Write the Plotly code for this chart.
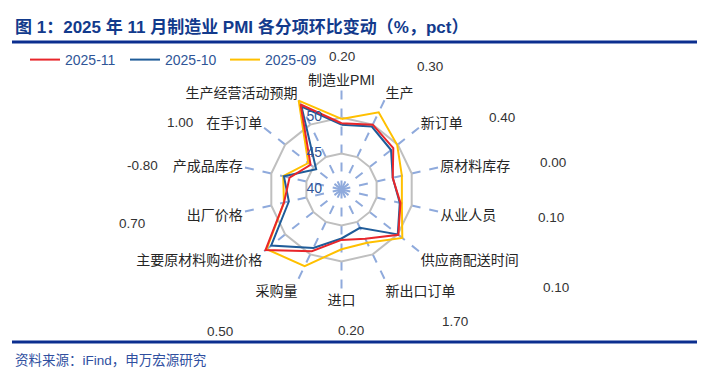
import plotly.graph_objects as go

W, H = 708, 378

categories = ["制造业PMI", "生产", "新订单", "原材料库存", "从业人员", "供应商配送时间",
              "新出口订单", "进口", "采购量", "主要原材料购进价格", "出厂价格",
              "产成品库存", "在手订单", "生产经营活动预期"]
nov_2025 = [49.2, 50.0, 49.2, 47.3, 48.4, 50.1, 47.6, 47.0, 49.5, 53.5, 48.2, 47.4, 45.5, 53.1]
oct_2025 = [49.0, 49.7, 48.8, 47.3, 48.3, 50.0, 45.9, 46.8, 49.0, 52.5, 47.5, 48.2, 44.5, 52.8]
sep_2025 = [49.8, 51.9, 49.9, 48.6, 48.6, 50.8, 48.2, 48.3, 51.8, 53.3, 48.2, 48.3, 45.9, 53.7]
series_names = ["2025-11", "2025-10", "2025-09"]
change_labels = ["0.20", "0.30", "0.40", "0.00", "0.10", "0.10", "1.70",
                 "0.20", "0.50", "0.70", "-0.80", "1.00"]
radial_ticks = [40, 45, 50]

# layout (pixel positions of the scattered change labels)
label_px = [(342, 56), (430, 67), (502, 117), (553, 163), (551, 217), (556, 287),
            (455, 321), (351, 330), (220, 331), (132, 223), (142, 165), (180, 122)]

colors = ["#E8262B", "#1F5C99", "#FFC000"]
FONT = "Liberation Sans, Arial, Noto Sans CJK SC"

fig = go.Figure()
# draw order: yellow beneath, red on top
for name, vals, col, rank in zip(series_names[::-1], [sep_2025, oct_2025, nov_2025],
                                 colors[::-1], [3, 2, 1]):
    fig.add_trace(go.Scatterpolar(
        r=vals + vals[:1], theta=categories + categories[:1], name=name,
        mode="lines", line=dict(color=col, width=2), legendrank=rank))

# radial tick labels, drawn left of the vertical spoke through the polar scale
pad = "<span style='color:rgba(0,0,0,0)'>00.</span>"
centre_nudge = 0.02  # keeps the label at the axis minimum from being dropped at the pole
fig.add_trace(go.Scatterpolar(
    r=[v + centre_nudge for v in radial_ticks], theta=[categories[0]] * len(radial_ticks),
    text=[f"{v}{pad}" for v in radial_ticks], mode="text", cliponaxis=False,
    textposition="middle left", textfont=dict(size=14, color="#2F5597", family=FONT),
    showlegend=False, hoverinfo="skip"))

cx, cy, R = 341.5, 189.5, 100.8
fig.update_layout(
    width=W, height=H, margin=dict(l=0, r=0, t=0, b=0),
    paper_bgcolor="white", plot_bgcolor="white",
    font=dict(family=FONT, size=13, color="#262626"),
    polar=dict(
        domain=dict(x=[(cx - R) / W, (cx + R) / W], y=[1 - (cy + R) / H, 1 - (cy - R) / H]),
        bgcolor="rgba(0,0,0,0)", gridshape="linear",
        angularaxis=dict(direction="clockwise", rotation=90, showline=False,
                         gridcolor="#8FAADC", griddash="dash", gridwidth=1.5,
                         tickfont=dict(size=14, color="#262626", family=FONT), ticks=""),
        radialaxis=dict(range=[40, 54], tickvals=radial_ticks, showticklabels=False,
                        angle=90, showline=False, gridcolor="#BFBFBF", gridwidth=1.5,
                        ticks=""),
    ),
    legend=dict(orientation="h", x=25 / W, y=1 - 60 / H, yanchor="middle", xanchor="left",
                font=dict(size=14, color="#2F5597", family=FONT),
                entrywidth=55, entrywidthmode="pixels", bgcolor="rgba(0,0,0,0)"),
    showlegend=True,
)

annotations = [dict(text="<b>图 1：2025 年 11 月制造业 PMI 各分项环比变动（%，pct）</b>",
                    x=13 / W, y=1 - 27 / H, xref="paper", yref="paper", xanchor="left",
                    yanchor="middle", showarrow=False,
                    font=dict(size=17, color="#123A8C", family=FONT)),
               dict(text="资料来源：iFind，申万宏源研究", x=13 / W, y=1 - 360 / H,
                    xref="paper", yref="paper", xanchor="left", yanchor="middle",
                    showarrow=False, font=dict(size=13.5, color="#2F4F9F", family=FONT))]
for txt, (px, py) in zip(change_labels, label_px):
    annotations.append(dict(text=txt, x=px / W, y=1 - py / H, xref="paper", yref="paper",
                            xanchor="center", yanchor="middle", showarrow=False,
                            font=dict(size=13.5, color="#333333", family=FONT)))
fig.update_layout(annotations=annotations)

fig.update_layout(shapes=[
    dict(type="line", xref="paper", yref="paper", x0=12 / W, x1=697 / W,
         y0=1 - 42 / H, y1=1 - 42 / H, line=dict(color="#0B2E8F", width=3)),
    dict(type="line", xref="paper", yref="paper", x0=12 / W, x1=697 / W,
         y0=1 - 342 / H, y1=1 - 342 / H, line=dict(color="#0B2E8F", width=3)),
])

fig.write_html("out.html", config={"displayModeBar": False},
               post_script="document.body.style.margin='0';")
